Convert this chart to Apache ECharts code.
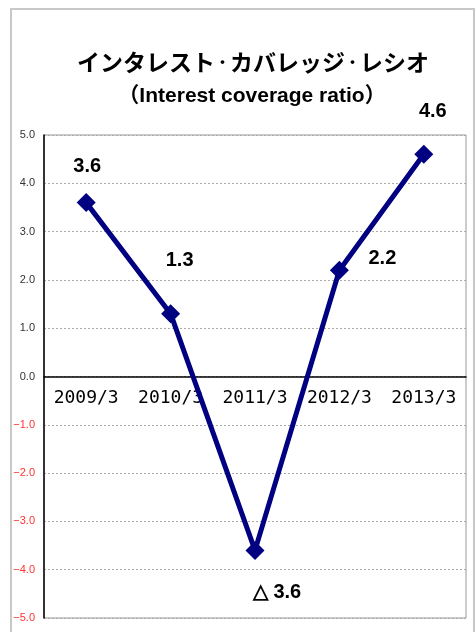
<!DOCTYPE html>
<html><head><meta charset="utf-8">
<script src="https://cdn.jsdelivr.net/npm/echarts@6/dist/echarts.min.js"></script>
<style>html,body{margin:0;padding:0;background:#fff}#c{width:475px;height:632px}</style>
</head><body><div id="c"></div>
<script>
var categories = ['2009/3', '2010/3', '2011/3', '2012/3', '2013/3'];
var values = [3.6, 1.3, -3.6, 2.2, 4.6];
var valueLabels = ['3.6', '1.3', '△ 3.6', '2.2', '4.6'];
var yTicks = { min: -5, max: 5, interval: 1 };
var titleText = 'インタレスト・カバレッジ・レシオ';
var subtitleText = '（Interest coverage ratio）';

var labelOffsets = [[1, -36], [9, -53], [22, 42], [43, -12], [9, -43]];

var gridTop = 135, gridBottom = 14, H = 632;
var plotH = H - gridTop - gridBottom;
var zeroShift = plotH * (0 - yTicks.min) / (yTicks.max - yTicks.min);

var chart = echarts.init(document.getElementById('c'));
var parts = titleText.split('・');
var titleRich = parts.map(function (p) { return '{k|' + p + '}'; }).join('{d|・}');

chart.setOption({
  animation: false,
  backgroundColor: '#fff',
  graphic: [
    { type: 'rect', shape: { x: 11, y: 9, width: 463, height: 630 }, style: { fill: 'none', stroke: '#c8c8c8', lineWidth: 2 }, z: -1 },
    { type: 'text', x: 253, y: 62, style: { text: titleRich, align: 'center', verticalAlign: 'middle', rich: {
        k: { fontSize: 23, fontWeight: 'bold', fontFamily: 'Noto Sans CJK JP', fill: '#000' },
        d: { fontSize: 15, fontWeight: 'bold', fontFamily: 'Noto Sans CJK JP', fill: '#000' }
      } } },
    { type: 'text', x: 252, y: 96, style: { text: subtitleText, align: 'center', verticalAlign: 'middle', fontSize: 21, fontWeight: 'bold', fontFamily: 'Liberation Sans, Noto Sans CJK JP', fill: '#000' } }
  ],
  grid: { left: 44, right: 9, top: gridTop, bottom: gridBottom, show: true, borderColor: '#999', borderWidth: 1, containLabel: false, outerBoundsMode: 'none' },
  xAxis: {
    type: 'category', data: categories, boundaryGap: true, position: 'bottom',
    offset: -zeroShift,
    axisLine: { onZero: false, lineStyle: { color: '#000', width: 1.5 } },
    axisTick: { inside: true, length: 5, lineStyle: { color: '#999' } },
    axisLabel: { interval: 0, margin: 13, fontSize: 18, fontFamily: 'DejaVu Sans Mono', color: '#000' },
    splitLine: { show: false }
  },
  yAxis: {
    type: 'value', min: yTicks.min, max: yTicks.max, interval: yTicks.interval,
    axisLine: { show: true, lineStyle: { color: '#000', width: 1.5 } },
    axisTick: { show: false },
    axisLabel: {
      margin: 9, fontSize: 11, fontFamily: 'Liberation Sans',
      formatter: function (v) { return v.toFixed(1).replace('-', '−'); },
      color: function (v) { return Number(v) < 0 ? '#ff3333' : '#333'; }
    },
    splitLine: { show: true, lineStyle: { color: '#aaa', type: [2, 2], width: 1 } }
  },
  series: [{
    type: 'line', data: values.map(function (v, i) {
      return { value: v, label: { show: true, formatter: valueLabels[i], offset: labelOffsets[i], position: 'inside' } };
    }),
    symbol: 'diamond', symbolSize: 19,
    lineStyle: { color: '#000080', width: 5 },
    itemStyle: { color: '#000080' },
    label: { fontSize: 20, fontWeight: 'bold', fontFamily: 'Liberation Sans', color: '#000' },
    z: 3
  }]
});
</script></body></html>
